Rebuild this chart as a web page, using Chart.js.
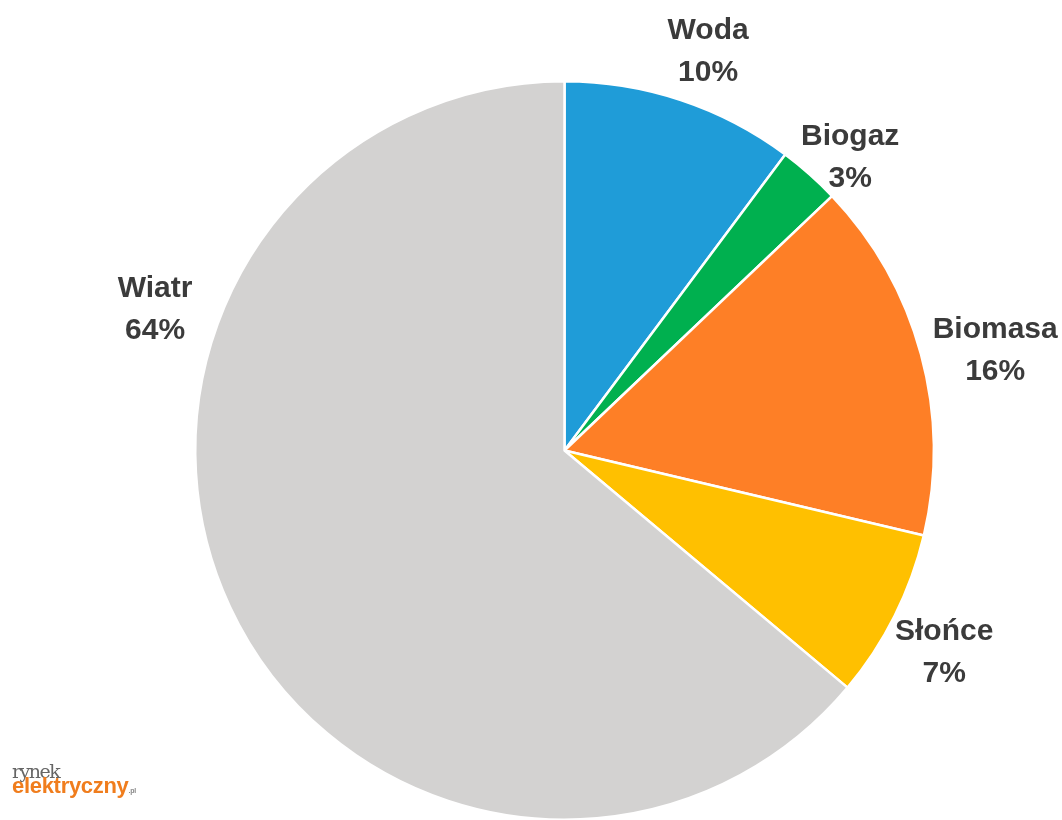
<!DOCTYPE html>
<html>
<head>
<meta charset="utf-8">
<script src="https://cdn.jsdelivr.net/npm/chart.js@4/dist/chart.umd.min.js"></script>
<style>
  html, body { margin: 0; padding: 0; background: #fff; overflow: hidden; }
  #wrap { position: relative; width: 1062px; height: 820px; overflow: hidden; }
  #logo { position: absolute; left: 12px; top: 762px; line-height: 1; }
  #logo .r { font-family: "DejaVu Serif", "Liberation Serif", serif; color: #666; font-size: 19px; letter-spacing: -1.5px; }
  #logo .e { font-family: "Liberation Sans", Arial, sans-serif; font-weight: bold; color: #f07d1d; font-size: 22px; letter-spacing: -0.3px; display: block; margin-top: -6px; }
  #logo .e small { font-size: 7px; color: #888; }
</style>
</head>
<body>
<div id="wrap">
  <canvas id="chart" width="1062" height="830"></canvas>
  <div id="logo"><span class="r">rynek</span><span class="e">elektryczny<small>.pl</small></span></div>
</div>
<script>
const categories = ["Woda", "Biogaz", "Biomasa", "Słońce", "Wiatr"];
const shares = [10.2, 2.7, 15.8, 7.4, 63.9];
const colors = ["#1f9cd8", "#00b04f", "#fe7f26", "#ffc000", "#d3d2d1"];

// label placement: distance from centre, angle (deg from top, clockwise)
const labelPlugin = {
  id: "outLabels",
  afterDatasetsDraw(chart) {
    const ctx = chart.ctx;
    const meta = chart.getDatasetMeta(0);
    ctx.save();
    ctx.font = "bold 30px 'Liberation Sans', Arial, sans-serif";
    ctx.fillStyle = "#3b3b3b";
    ctx.textAlign = "center";
    ctx.textBaseline = "middle";
    const place = {
      Woda: { d: 424, a: 19.8 },
      Biogaz: { d: 409, a: 44.3 },
      Biomasa: { d: 442, a: 77 },
      "Słońce": { d: 430, a: 118 },
      Wiatr: { d: 433, a: -71 }
    };
    meta.data.forEach((arc, i) => {
      const p = place[categories[i]];
      const rad = (p.a - 90) * Math.PI / 180;
      const x = arc.x + Math.cos(rad) * p.d;
      const y = arc.y + Math.sin(rad) * p.d;
      ctx.fillText(categories[i], x, y - 21);
      ctx.fillText(Math.round(shares[i]) + "%", x, y + 21);
    });
    ctx.restore();
  }
};

new Chart(document.getElementById("chart").getContext("2d"), {
  type: "pie",
  data: {
    labels: categories,
    datasets: [{
      data: shares,
      backgroundColor: colors,
      borderColor: "#ffffff",
      borderWidth: 2.5
    }]
  },
  options: {
    responsive: false,
    animation: false,
    layout: { padding: { left: 194, right: 127, top: 80, bottom: 9 } },
    plugins: {
      legend: { display: false },
      tooltip: { enabled: false }
    }
  },
  plugins: [labelPlugin]
});
</script>
</body>
</html>
